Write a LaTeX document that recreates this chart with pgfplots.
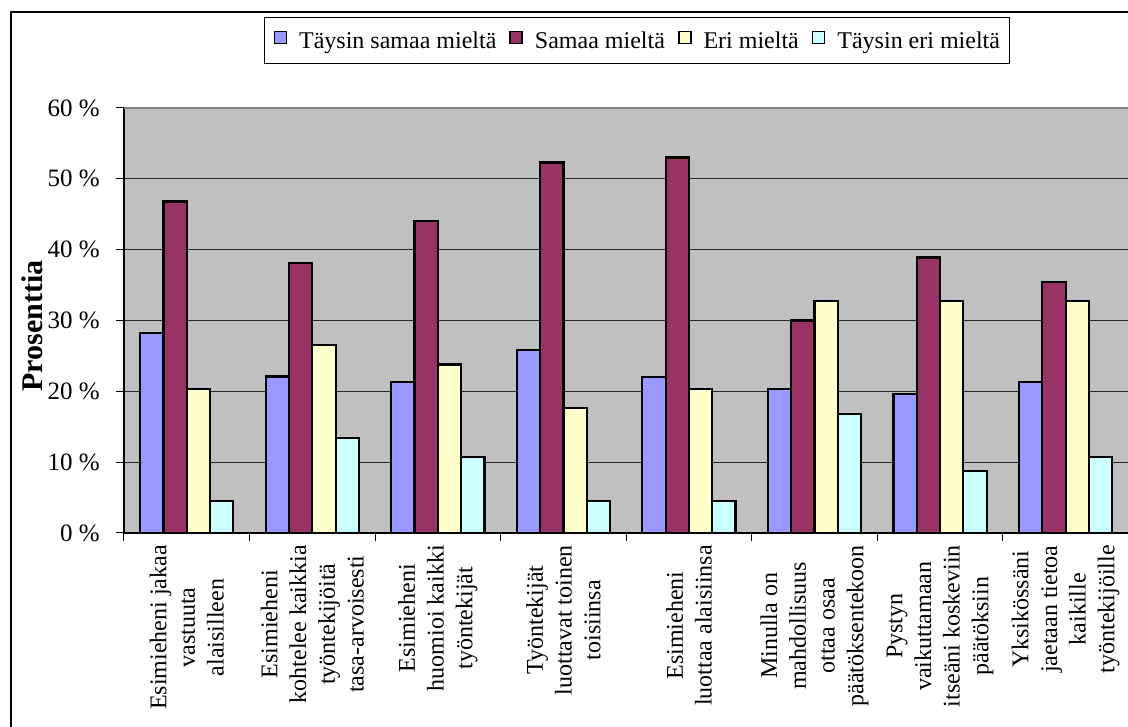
\documentclass[border=0pt]{standalone}
\usepackage{fontspec}
\setmainfont{Liberation Serif}
\usepackage{pgfplots}
\pgfplotsset{compat=1.18}

\definecolor{sarjaA}{HTML}{9999FF}
\definecolor{sarjaB}{HTML}{993366}
\definecolor{sarjaC}{HTML}{FFFFCC}
\definecolor{sarjaD}{HTML}{CCFFFF}
\definecolor{tausta}{HTML}{C0C0C0}

\newcommand{\tickfont}{\fontsize{24}{28.7}\selectfont}
\newcommand{\yfont}{\fontsize{25}{30}\selectfont}

\pgfplotsset{
  sq legend/.style={legend image code/.code={
      \draw[##1,draw=black,line width=1.6pt] (0pt,-2pt) rectangle (12pt,10pt);}},
}

\begin{document}
\begin{tikzpicture}[x=1pt,y=1pt]
\useasboundingbox (0,0) rectangle (1128,727);
\clip (0,0) rectangle (1128,727);
% outer frame of the chart
\draw[line width=1.5pt] (11,715) rectangle (1150,-20);
\begin{axis}[
  at={(124pt,194pt)}, anchor=south west,
  scale only axis, width=1004.5pt, height=425pt,
  xmin=-0.5, xmax=7.5, ymin=0, ymax=60,
  axis x line*=bottom, axis y line*=left,
  axis line style={black, line width=1.3pt},
  axis background/.style={fill=tausta},
  ybar=0pt, bar width=23.3pt,
  tick align=outside, major tick length=8pt,
  ytick={0,10,...,60},
  yticklabels={0 \%,10 \%,20 \%,30 \%,40 \%,50 \%,60 \%},
  yticklabel style={font=\yfont, inner xsep=0pt, xshift=-16pt},
  ytick style={black, line width=1pt},
  ymajorgrids, major grid style={black!85, line width=1pt},
  xtick={-0.5,0.5,...,7.5},
  xticklabels={,,,,,,,,},
  xtick style={black, line width=1pt},
  extra x ticks={0,1,2,3,4,5,6,7},
  extra x tick labels={
    {Esimieheni jakaa\\vastuuta\\alaisilleen},
    {Esimieheni\\kohtelee kaikkia\\työntekijöitä\\tasa-arvoisesti},
    {Esimieheni\\huomioi kaikki\\työntekijät},
    {Työntekijät\\luottavat toinen\\toisiinsa},
    {Esimieheni\\luottaa alaisiinsa},
    {Minulla on\\mahdollisuus\\ottaa osaa\\päätöksentekoon},
    {Pystyn\\vaikuttamaan\\itseäni koskeviin\\päätöksiin},
    {Yksikössäni\\jaetaan tietoa\\kaikille\\työntekijöille}},
  extra x tick style={major tick length=0pt, grid=none,
    xticklabel style={rotate=90, anchor=east, align=center,
      font=\tickfont, inner xsep=12pt, inner ysep=0pt}},
  ylabel={Prosenttia},
  ylabel style={font=\fontsize{30}{36}\selectfont\bfseries,
    at={(axis description cs:-0.0911,0.487)}, anchor=center},
  legend columns=4,
  legend style={at={(axis description cs:0.1394,1.2141)}, anchor=north west,
    draw=black, line width=1pt, fill=white,
    font=\fontsize{24}{28}\selectfont,
    inner xsep=9pt, inner ysep=13pt,
    nodes={inner sep=0pt, text depth=0.15em},
    /tikz/every odd column/.append style={column sep=12pt},
    /tikz/every even column/.append style={column sep=13pt}},
]
\addplot[fill=sarjaA, draw=black, line width=2.2pt, sq legend] coordinates
  {(0,28.2) (1,22.1) (2,21.3) (3,25.8) (4,22.0) (5,20.3) (6,19.6) (7,21.3)};
\addplot[fill=sarjaB, draw=black, line width=2.2pt, sq legend] coordinates
  {(0,46.8) (1,38.1) (2,44.1) (3,52.3) (4,53.0) (5,30.0) (6,38.9) (7,35.4)};
\addplot[fill=sarjaC, draw=black, line width=2.2pt, sq legend] coordinates
  {(0,20.3) (1,26.5) (2,23.8) (3,17.6) (4,20.3) (5,32.7) (6,32.7) (7,32.7)};
\addplot[fill=sarjaD, draw=black, line width=2.2pt, sq legend] coordinates
  {(0,4.5) (1,13.4) (2,10.7) (3,4.5) (4,4.5) (5,16.8) (6,8.7) (7,10.7)};
\legend{Täysin samaa mieltä, Samaa mieltä, Eri mieltä, Täysin eri mieltä}
% grey upper edge of the plot area
\draw[color=black!50, line width=2pt] (rel axis cs:0,1) -- (rel axis cs:1,1);
\end{axis}
\end{tikzpicture}
\end{document}
